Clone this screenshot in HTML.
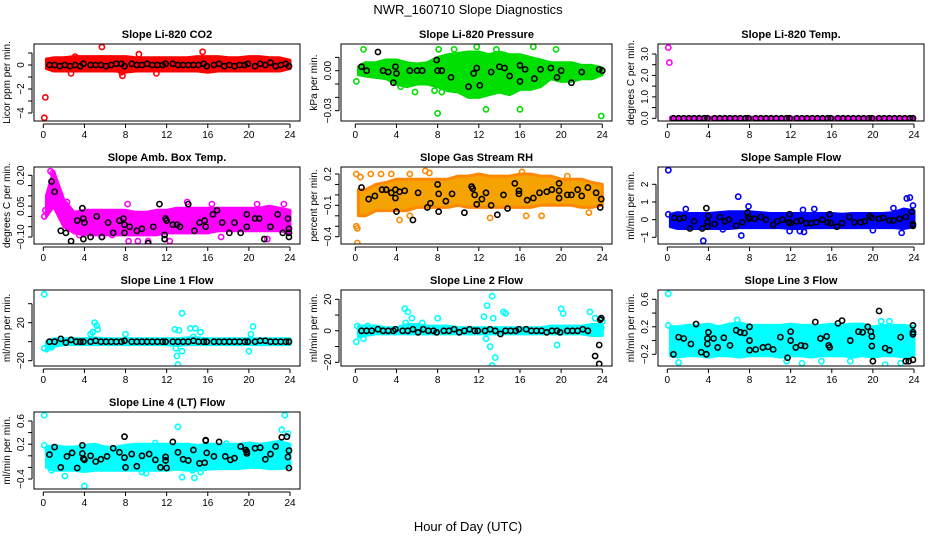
<!DOCTYPE html>
<html><head><meta charset="utf-8"><style>
body{margin:0;background:#fff;}
svg{display:block;font-family:"Liberation Sans",sans-serif;}
</style></head><body>
<svg id="chart" width="936" height="540" viewBox="0 0 936 540">
<text x="468" y="14" text-anchor="middle" font-size="13">NWR_160710  Slope Diagnostics</text>
<text x="468" y="531" text-anchor="middle" font-size="13">Hour of Day (UTC)</text>
</svg>
<script>
// ---------- data ----------
const xTicks = [0,4,8,12,16,20,24];
const bandX = [0.3,1,2,3,4,5,6,7,8,9,10,11,12,13,14,15,16,17,18,19,20,21,22,23,24];

const co2Lo = [-0.3,-0.5,-0.5,-0.5,-0.5,-0.5,-0.5,-0.5,-0.6,-0.5,-0.5,-0.5,-0.5,-0.5,-0.5,-0.5,-0.6,-0.5,-0.5,-0.5,-0.5,-0.5,-0.5,-0.5,-0.3];
const co2Hi = [0.5,0.6,0.6,0.7,0.7,0.7,0.7,0.7,0.7,0.6,0.6,0.6,0.6,0.6,0.6,0.7,0.7,0.7,0.6,0.6,0.7,0.7,0.6,0.6,0.4];
const co2OutX = [0.1,0.2,5.7,15.5,7.7,9.3,2.7,11,7.6,3.1];
const co2OutY = [-4.4,-2.7,1.5,1.1,-0.9,0.9,-0.7,-0.7,-0.6,0.7];
const co2BlkX = [0.6,1.1,1.6,2.1,2.6,3.1,3.6,3.9,4.6,5.1,5.6,6.1,6.6,7.1,7.6,7.9,8.6,9.1,9.6,10.1,10.6,11.1,11.6,11.9,12.6,13.1,13.6,14.1,14.6,15.1,15.6,15.9,16.6,17.1,17.6,18.1,18.6,19.1,19.6,19.9,20.6,21.1,21.6,22.1,22.6,23.1,23.6,23.9];
const co2BlkY = [0,0,-0.1,0,-0.1,0,-0.1,0.1,0,0,0,-0.1,0,0.1,0.1,-0.1,0.1,0,0,0.1,0,0,0,0.1,0.1,0,0,0,0,0,0.1,-0.1,0,0.1,-0.1,0,-0.1,0,0,0.1,-0.1,0.1,0,0.2,-0.1,0,0.1,-0.1];

const prLo = [-0.003,-0.004,-0.005,-0.006,-0.01,-0.012,-0.01,-0.01,-0.012,-0.015,-0.016,-0.02,-0.02,-0.018,-0.016,-0.018,-0.014,-0.014,-0.012,-0.006,-0.008,-0.008,-0.006,-0.006,-0.003];
const prHi = [0.003,0.006,0.006,0.008,0.008,0.006,0.005,0.006,0.01,0.012,0.013,0.014,0.014,0.012,0.014,0.012,0.012,0.01,0.008,0.006,0.006,0.006,0.004,0.004,0.002];
const prOutX = [0.8,8.1,8,5.8,7.7,8.4,12.7,16,23.9,17.3,19.5,13.7,11.8,0.1,4.4,9.6];
const prOutY = [0.016,0.016,-0.032,-0.016,-0.015,-0.016,-0.029,-0.029,-0.034,0.018,0.016,0.016,0.018,-0.008,-0.012,0.016];
const prBlkX = [0.6,1.1,2.2,2.7,3.2,3.7,3.9,4,5.3,6,6.5,7.9,8,8.4,9.3,11,11.5,11.8,12.1,13.2,14,14.5,15,16,16,16.5,17.4,18,19,19.6,20,21,22,23.7,24];
const prBlkY = [0.003,0,0.014,0,-0.001,-0.009,0.003,-0.002,0,0,0,0.008,0,0,-0.005,-0.012,-0.002,0.002,-0.011,-0.001,0.003,0.002,-0.004,0.004,-0.008,0.001,-0.006,0.001,0.002,-0.005,0,-0.009,-0.001,0.001,0];

const tLo = [-0.04,-0.04,-0.04,-0.04,-0.04,-0.04,-0.04,-0.04,-0.04,-0.04,-0.04,-0.04,-0.04,-0.04,-0.04,-0.04,-0.04,-0.04,-0.04,-0.04,-0.04,-0.04,-0.04,-0.04,-0.04];
const tHi = [0.05,0.05,0.05,0.05,0.05,0.05,0.05,0.05,0.05,0.05,0.05,0.05,0.05,0.05,0.05,0.05,0.05,0.05,0.05,0.05,0.05,0.05,0.05,0.05,0.05];
const tOutX = [0.1,0.2];
const tOutY = [3.3,2.6];
const tBlkX = [0.6,1.1,1.6,2.1,2.6,3.1,3.6,3.9,4.6,5.1,5.6,6.1,6.6,7.1,7.6,7.9,8.6,9.1,9.6,10.1,10.6,11.1,11.6,11.9,12.6,13.1,13.6,14.1,14.6,15.1,15.6,15.9,16.6,17.1,17.6,18.1,18.6,19.1,19.6,19.9,20.6,21.1,21.6,22.1,22.6,23.1,23.6,23.9];
const tBlkY = [0,0,0,0,0,0,0,0,0,0,0,0,0,0,0,0,0,0,0,0,0,0,0,0,0,0,0,0,0,0,0,0,0,0,0,0,0,0,0,0,0,0,0,0,0,0,0,0];

const abLo = [0.0,0.05,-0.05,-0.08,-0.09,-0.09,-0.09,-0.09,-0.09,-0.09,-0.09,-0.09,-0.08,-0.08,-0.08,-0.08,-0.08,-0.07,-0.07,-0.07,-0.07,-0.07,-0.07,-0.07,-0.08];
const abHi = [0.1,0.22,0.08,0.02,0.03,0.03,0.03,0.03,0.03,0.02,0.02,0.03,0.03,0.04,0.04,0.04,0.04,0.04,0.04,0.04,0.04,0.04,0.05,0.04,0.03];
const abOutX = [0.1,0.2,16.4,20.8,23.4,10.2,12.3,8.3,9.2,17.3,21.8,5.7,3.5,6.7,2.3,14,8.2,0.7,0.9];
const abOutY = [0.0,0.03,0.06,0.06,0.06,-0.12,-0.12,-0.12,-0.12,-0.1,-0.11,-0.1,-0.09,-0.09,0.07,0.07,0.06,0.22,0.21];
const abBlkX = [0.8,1.1,1.7,2.2,2.7,3.3,3.8,3.9,3.9,4,4.6,5.2,5.7,6.3,6.8,7.4,7.8,7.9,7.9,8.4,9.1,9.6,10.2,10.7,11.3,11.8,11.8,11.9,12,12.6,13,13.3,14.1,14.7,15.2,15.7,15.8,16.5,16.9,17.4,18.1,18.6,19.2,19.8,19.8,20.6,21,21.5,22.1,22.8,23.3,23.8,23.9,23.9,23.9];
const abBlkY = [0.17,0.12,-0.07,-0.08,-0.12,-0.02,0.04,-0.01,-0.11,-0.03,-0.1,0.0,-0.1,-0.03,-0.08,-0.02,-0.01,-0.04,-0.08,-0.05,-0.07,-0.06,-0.13,-0.05,0.06,-0.11,-0.09,-0.01,-0.02,-0.04,-0.04,-0.05,0.06,-0.07,-0.03,-0.02,-0.05,0.01,0.03,-0.03,-0.08,-0.03,-0.08,0.01,-0.05,-0.01,-0.01,-0.11,-0.05,0.01,-0.08,-0.01,-0.06,-0.08,-0.1];

const rhLo = [-0.2,-0.2,-0.15,-0.15,-0.15,-0.15,-0.12,-0.12,-0.12,-0.12,-0.1,-0.12,-0.12,-0.12,-0.12,-0.12,-0.12,-0.12,-0.1,-0.1,-0.1,-0.1,-0.12,-0.12,-0.1];
const rhHi = [0.05,0.05,0.1,0.12,0.15,0.15,0.15,0.15,0.15,0.15,0.18,0.18,0.2,0.18,0.18,0.18,0.2,0.2,0.18,0.18,0.15,0.15,0.15,0.12,0.1];
const rhOutX = [0.1,0.2,0.2,0.1,0.5,1.5,2.5,3.5,5.3,6.8,7.2,16.2,20.6,5.3,4.3,13.1,16.6,18.1,22.7];
const rhOutY = [-0.3,-0.32,-0.46,0.2,0.17,0.2,0.2,0.2,0.2,0.23,0.21,0.22,0.18,-0.2,-0.24,-0.22,-0.2,-0.2,-0.17];
const rhBlkX = [0.6,1.3,1.9,2.6,3,3.5,3.9,3.9,4,4.3,4.8,5.6,6.1,7,7.3,8,8.1,8.1,8.8,9.4,10.6,11.3,11.4,11.6,11.8,12.3,12.7,13.2,13.8,14.4,14.8,15.5,15.9,15.9,16.7,17.3,17.9,18.6,19.1,19.8,19.8,19.8,20.6,21,21.6,22,22.6,23.4,23.8,23.9];
const rhBlkY = [0.07,-0.04,-0.01,0.05,0.05,0.02,0.05,-0.03,-0.16,0.03,0.04,-0.24,0.02,-0.12,-0.08,0.1,-0.16,0.01,-0.06,0.01,-0.17,0.08,0.06,0.0,-0.09,-0.04,0.02,-0.1,-0.19,0.0,-0.13,0.11,0.01,0.04,-0.05,-0.03,0.02,0.03,0.05,-0.03,0.04,0.11,0.0,0.0,0.05,-0.01,0.07,0.02,-0.12,-0.04];

const sfLo = [-0.4,-0.5,-0.5,-0.5,-0.5,-0.5,-0.5,-0.45,-0.45,-0.45,-0.45,-0.45,-0.5,-0.5,-0.45,-0.45,-0.45,-0.45,-0.45,-0.45,-0.45,-0.45,-0.45,-0.5,-0.4];
const sfHi = [0.3,0.4,0.35,0.35,0.35,0.4,0.45,0.45,0.45,0.4,0.35,0.35,0.35,0.35,0.35,0.35,0.35,0.3,0.35,0.35,0.35,0.35,0.4,0.6,0.5];
const sfOutX = [0.1,0.1,6.9,7.2,3.5,1.8,5.4,7.9,11.9,12.9,13.3,20,22.8,23.3,23.6,22,23.9,13.2,14.3];
const sfOutY = [2.8,0.3,1.3,-0.9,-1.2,0.6,-0.55,0.75,-0.65,-0.65,-0.7,-0.6,-0.75,1.2,1.25,0.65,0.8,0.55,0.6];
const sfBlkX = [0.7,1.2,1.6,2.2,2.6,3.4,3.8,3.9,3.9,4,4.6,5.1,5.6,6,6.7,7.3,7.8,7.9,8,8.5,9.1,9.6,10.3,10.7,11.2,11.8,11.9,12,12.6,13,13.5,14,14.5,15.1,15.6,15.8,15.9,16.5,17,17.7,18.2,18.8,19.2,19.7,19.9,20.6,21,21.6,22,22.6,23.2,23.8,23.9,23.9];
const sfBlkY = [0.1,0.05,0.1,-0.5,-0.1,-0.5,0.65,-0.15,-0.4,0.2,-0.25,0.15,-0.1,0.0,-0.35,-0.15,0.4,0.15,0.05,0.05,0.15,0.0,-0.3,-0.1,0.0,-0.15,0.3,-0.2,-0.1,-0.05,-0.2,-0.2,-0.15,0.0,-0.15,0.3,-0.2,-0.4,-0.2,0.15,-0.15,-0.15,-0.1,0.2,0.1,0.05,0.1,-0.05,-0.05,0.05,0.15,0.45,-0.25,-0.35];

const l1Lo = [-10,-5,-3,-3,-3,-3,-3,-3,-3,-3,-3,-3,-3,-4,-3,-3,-3,-3,-3,-3,-3,-3,-3,-3,-3];
const l1Hi = [0,3,3,3,3,4,3,3,3,3,3,3,3,3,4,4,3,3,3,3,3,3,3,3,3];
const l1OutX = [0.1,0.1,0.8,5,5.2,5.3,4.6,4.8,8,12.8,13.2,13.5,14.3,14.8,15.3,14.6,12.9,13,13.1,13.5,20,20.4,20.2,20.1];
const l1OutY = [50,-7,-6,20,17,13,8,10,8,13,12,30,14,14,10,5,-7,-15,-24,-10,-10,16,8,2];
const l1BlkX = [0.6,1.1,1.7,2.2,2.7,3.2,3.6,3.9,4.6,5.1,5.6,6.1,6.6,7.1,7.6,7.9,8.6,9.1,9.6,10.1,10.6,11.1,11.6,11.9,12.6,13.1,13.6,14.1,14.6,15.1,15.6,15.9,16.6,17.1,17.6,18.1,18.6,19.1,19.6,19.9,20.6,21.1,21.6,22.1,22.6,23.1,23.6,23.9];
const l1BlkY = [0,0,3,-1,2,0,0,0,0,1,0,0,0,0,0,1,0,0,0,0,0,0,0,0,0,0,0,0,1,0,0,0,0,0,0,0,0,0,0,0,0,1,1,0,0,0,0,0];

const l2Lo = [-4,-3,-2,-2,-2,-2,-2,-2,-2,-2,-2,-2,-2,-2,-2,-2,-2,-2,-2,-2,-2,-2,-2,-3,-3];
const l2Hi = [3,3,3,2,2,4,4,3,3,3,2,2,2,2,2,2,2,2,2,3,3,3,3,4,4];
const l2OutX = [0.1,0.2,0.8,1.2,4.8,5.1,5.5,4.9,6.5,8,13.3,12.8,12.5,13.4,14.4,14.6,12.7,13.1,13.6,13.3,20,20.2,19.6,22.8,23.3,24,23.9];
const l2OutY = [-7,3,-5,3,14,12,8,5,5,8,22,16,9,8,12,11,-5,-10,-17,-22,14,11,-9,12,8,6,2];
const l2BlkX = [0.6,1.1,1.6,2.2,2.7,3.2,3.7,3.9,4.6,5.1,5.6,6.1,6.6,7.1,7.6,7.9,8.6,9.1,9.6,10.1,10.6,11.1,11.6,11.9,12.6,13.1,13.6,14.1,14.6,15.1,15.6,15.9,16.6,17.1,17.6,18.1,18.6,19.1,19.6,19.9,20.6,21.1,21.6,22.1,22.6,23.3,23.7,23.7,23.8,23.9];
const l2BlkY = [0,0,0,1,0,0,0,1,0,0,1,-1,1,0,0,-1,0,0,1,-1,0,1,0,0,0,1,0,-2,0,0,0,1,1,0,0,0,-1,0,0,-1,0,0,0,1,0,-16,-9,-21,7,8];

const l3Lo = [-0.22,-0.24,-0.22,-0.22,-0.24,-0.22,-0.22,-0.24,-0.22,-0.22,-0.22,-0.24,-0.22,-0.22,-0.24,-0.22,-0.22,-0.22,-0.24,-0.22,-0.24,-0.22,-0.22,-0.24,-0.22];
const l3Hi = [0.2,0.2,0.22,0.22,0.24,0.2,0.24,0.26,0.22,0.22,0.22,0.22,0.24,0.22,0.22,0.22,0.24,0.22,0.24,0.24,0.2,0.22,0.22,0.22,0.2];
const l3OutX = [0.1,0.1,1.1,13.1,11.6,15,17.8,21.2,22.7,6.8,20.8,21.6,0.5];
const l3OutY = [0.68,0.22,-0.32,-0.33,-0.3,-0.3,-0.3,-0.35,-0.33,0.3,0.28,0.28,-0.2];
const l3BlkX = [0.6,1.1,1.6,2.3,2.8,3.3,3.8,3.9,3.9,4,4.5,4.9,5.5,6.1,6.7,7.1,7.5,8,8,8,8.6,9.3,9.8,10.3,11,11.7,12,12,12.5,13,13.4,14.4,14.9,15.5,15.7,15.8,16.6,17,17.8,18.6,19,19.5,19.8,19.9,19.9,20,20.6,21.2,21.6,22.7,23.2,23.5,23.9,23.9,23.9,23.9];
const l3BlkY = [-0.2,0.05,0.03,-0.05,0.24,-0.17,-0.2,-0.05,0.03,0.12,0.03,-0.1,0.04,-0.07,0.15,0.12,0.11,0.2,0.0,-0.14,-0.13,-0.1,-0.09,-0.13,0.05,-0.25,0.0,0.13,-0.1,-0.07,-0.08,0.27,0.03,0.06,-0.07,-0.1,0.25,0.29,0.0,0.13,0.12,0.2,0.13,0.06,-0.08,-0.3,0.43,-0.11,-0.14,0.05,-0.3,-0.3,0.22,0.12,0.09,-0.28];

const l4Lo = [-0.2,-0.25,-0.25,-0.25,-0.27,-0.25,-0.25,-0.25,-0.25,-0.25,-0.25,-0.25,-0.25,-0.23,-0.25,-0.25,-0.23,-0.22,-0.22,-0.22,-0.2,-0.2,-0.22,-0.22,-0.2];
const l4Hi = [0.15,0.18,0.15,0.15,0.18,0.2,0.15,0.15,0.18,0.2,0.2,0.2,0.2,0.2,0.2,0.18,0.2,0.2,0.2,0.2,0.22,0.2,0.22,0.25,0.2];
const l4OutX = [0.1,0.1,0.8,2.1,4,9.6,10,13.1,13.5,14.5,14.7,15.3,23.2,23.5,23.8,17.8,10.9];
const l4OutY = [0.7,0.18,-0.25,-0.35,-0.52,-0.28,-0.3,0.5,-0.37,-0.25,-0.38,-0.28,0.45,0.7,0.38,0.21,0.22];
const l4BlkX = [0.6,1.1,1.7,2.3,2.8,3.3,3.8,3.8,3.9,4,4.6,5.1,5.6,6.2,6.8,7.4,7.9,7.9,8,8.6,9.1,9.6,10.3,10.9,11.4,11.9,11.9,12,12.6,13.1,13.6,14.1,14.6,15.2,15.7,15.8,15.8,15.9,16.6,17.1,17.7,18.2,18.6,19.2,19.7,19.8,19.8,20.6,21.1,21.6,22.1,22.6,23.2,23.7,23.8,23.9,23.9];
const l4BlkY = [0.02,0.15,-0.2,-0.01,0.05,-0.21,0.18,0.04,-0.05,-0.07,0.0,-0.1,-0.06,-0.01,0.13,0.06,-0.03,0.33,-0.2,0.03,-0.18,0.0,0.03,-0.07,-0.2,-0.02,-0.08,-0.21,0.24,0.06,-0.06,-0.08,0.1,-0.13,-0.12,0.26,0.27,0.05,-0.01,0.24,-0.01,-0.07,-0.04,0.16,0.1,0.07,0.04,0.13,0.14,-0.06,0.03,0.16,0.32,0.33,-0.02,0.09,-0.21];

// ---------- layout ----------
const rows = [[44,121],[167,244],[290,366],[412,489]];
const cols = [{l:34,r:300,x0:43.3,x24:290},{l:341,r:612,x0:355.3,x24:602.3},{l:658,r:924,x0:667.3,x24:914}];
const panels = [
 {name:'co2',title:'Slope Li-820 CO2',ylab:'Licor ppm per min.',row:0,col:0,col2:'#ff0000',fill:'#ff0000',ref:[0,65,-4,113],ticks:[-4,-3,-2,-1,0,1],labels:{'-4':'\u22124','-2':'\u22122','0':'0'},lo:co2Lo,hi:co2Hi,ox:co2OutX,oy:co2OutY,bx:co2BlkX,by:co2BlkY},
 {name:'pressure',title:'Slope Li-820 Pressure',ylab:'kPa per min.',row:0,col:1,col2:'#00dd00',fill:'#00e000',ref:[0,70.7,-0.03,110.7],ticks:[-0.03,-0.02,-0.01,0,0.01],labels:{'0':'0.00','-0.03':'\u22120.03'},lo:prLo,hi:prHi,ox:prOutX,oy:prOutY,bx:prBlkX,by:prBlkY},
 {name:'li820-temp',title:'Slope Li-820 Temp.',ylab:'degrees C per min.',row:0,col:2,col2:'#ff00ff',fill:'#ff00ff',ref:[0,118.3,3,54],ticks:[0,0.5,1,1.5,2,2.5,3],labels:{'0':'0.0','1':'1.0','2':'2.0','3':'3.0'},lo:tLo,hi:tHi,ox:tOutX,oy:tOutY,bx:tBlkX,by:tBlkY},
 {name:'amb-box-temp',title:'Slope Amb. Box Temp.',ylab:'degrees C per min.',row:1,col:0,col2:'#ff00ff',fill:'#ff00ff',ref:[0.2,175.3,-0.1,237],ticks:[-0.1,-0.05,0,0.05,0.1,0.15,0.2],labels:{'0.2':'0.20','0.05':'0.05','-0.1':'\u22120.10'},lo:abLo,hi:abHi,ox:abOutX,oy:abOutY,bx:abBlkX,by:abBlkY},
 {name:'gas-stream-rh',title:'Slope Gas Stream RH',ylab:'percent per min.',row:1,col:1,col2:'#ff8800',fill:'#f5a300',ref:[0.2,174,-0.4,236.7],ticks:[-0.4,-0.3,-0.2,-0.1,0,0.1,0.2],labels:{'0.2':'0.2','-0.1':'\u22120.1','-0.4':'\u22120.4'},lo:rhLo,hi:rhHi,ox:rhOutX,oy:rhOutY,bx:rhBlkX,by:rhBlkY},
 {name:'sample-flow',title:'Slope Sample Flow',ylab:'ml/min per min.',row:1,col:2,col2:'#0000ff',fill:'#0000ff',ref:[2,184.3,-1,237.3],ticks:[-1,0,1,2],labels:{'-1':'\u22121','0':'0','1':'1','2':'2'},lo:sfLo,hi:sfHi,ox:sfOutX,oy:sfOutY,bx:sfBlkX,by:sfBlkY},
 {name:'line1-flow',title:'Slope Line 1 Flow',ylab:'ml/min per min.',row:2,col:0,col2:'#00ffff',fill:'#00ffff',ref:[20,322.7,-20,360.7],ticks:[-20,0,20,40],labels:{'20':'20','-20':'\u221220'},lo:l1Lo,hi:l1Hi,ox:l1OutX,oy:l1OutY,bx:l1BlkX,by:l1BlkY},
 {name:'line2-flow',title:'Slope Line 2 Flow',ylab:'ml/min per min.',row:2,col:1,col2:'#00ffff',fill:'#00ffff',ref:[20,299.3,-20,362.3],ticks:[-20,-10,0,10,20],labels:{'20':'20','0':'0','-20':'\u221220'},lo:l2Lo,hi:l2Hi,ox:l2OutX,oy:l2OutY,bx:l2BlkX,by:l2BlkY},
 {name:'line3-flow',title:'Slope Line 3 Flow',ylab:'ml/min per min.',row:2,col:2,col2:'#00ffff',fill:'#00ffff',ref:[0.6,299.3,-0.2,354.3],ticks:[-0.2,0,0.2,0.4,0.6],labels:{'0.6':'0.6','0.2':'0.2','-0.2':'\u22120.2'},lo:l3Lo,hi:l3Hi,ox:l3OutX,oy:l3OutY,bx:l3BlkX,by:l3BlkY},
 {name:'line4-flow',title:'Slope Line 4 (LT) Flow',ylab:'ml/min per min.',row:3,col:0,col2:'#00ffff',fill:'#00ffff',ref:[0.6,421,-0.4,479],ticks:[-0.4,-0.2,0,0.2,0.4,0.6],labels:{'0.6':'0.6','0.2':'0.2','-0.4':'\u22120.4'},lo:l4Lo,hi:l4Hi,ox:l4OutX,oy:l4OutY,bx:l4BlkX,by:l4BlkY}
];

const NS='http://www.w3.org/2000/svg';
const svg=document.getElementById('chart');
function mk(tag,attrs,parent){const e=document.createElementNS(NS,tag);for(const k in attrs)e.setAttribute(k,attrs[k]);(parent||svg).appendChild(e);return e;}

panels.forEach(p=>{
  const [top,bot]=rows[p.row]; const c=cols[p.col];
  const g=mk('g',{});
  
  
  const X=h=>c.x0+h*(c.x24-c.x0)/24;
  const [v1,p1,v2,p2]=p.ref;
  const Y=v=>p1+(v-v1)*(p2-p1)/(v2-v1);
  const cid='clip-'+p.name;
  const cp=mk('clipPath',{id:cid},g); mk('rect',{x:c.l,y:top,width:c.r-c.l,height:bot-top},cp);
  const pg=mk('g',{'clip-path':'url(#'+cid+')'},g);
  let d='';
  bandX.forEach((h,i)=>{d+=(i?'L':'M')+X(h).toFixed(1)+','+Y(p.hi[i]).toFixed(1);});
  for(let i=bandX.length-1;i>=0;i--){d+='L'+X(bandX[i]).toFixed(1)+','+Y(p.lo[i]).toFixed(1);}
  const band=mk('path',{d:d+'Z',fill:p.fill,stroke:p.col2,'stroke-width':3,'stroke-linejoin':'round'},pg);
  
  
  p.ox.forEach((h,i)=>{
    const e=mk('circle',{cx:X(h),cy:Y(p.oy[i]),r:2.6,fill:'none',stroke:p.col2,'stroke-width':1.6},pg);
    
    
  });
  p.bx.forEach((h,i)=>{
    const e=mk('circle',{cx:X(h),cy:Y(p.by[i]),r:2.6,fill:'none',stroke:'#000','stroke-width':1.6},pg);
    
    
  });
  const box=mk('rect',{x:c.l,y:top,width:c.r-c.l,height:bot-top,fill:'none',stroke:'#000','stroke-width':1},g);
  
  
  const t=mk('text',{x:(c.l+c.r)/2,y:top-6,'text-anchor':'middle','font-size':11,'font-weight':'bold'},g);
  t.textContent=p.title;
  
  
  const xa=mk('g',{},g);
  
  
  mk('line',{x1:X(0),x2:X(24),y1:bot+3,y2:bot+3,stroke:'#000'},xa);
  xTicks.forEach(v=>{
    mk('line',{x1:X(v),x2:X(v),y1:bot+3,y2:bot+7,stroke:'#000'},xa);
    const tl=mk('text',{x:X(v),y:bot+17,'text-anchor':'middle','font-size':10},xa);
    tl.textContent=v;
  });
  const ya=mk('g',{},g);
  
  
  const ax=c.l-2;
  mk('line',{x1:ax,x2:ax,y1:Y(p.ticks[0]),y2:Y(p.ticks[p.ticks.length-1]),stroke:'#000'},ya);
  p.ticks.forEach(v=>{
    const yy=Y(v);
    mk('line',{x1:ax-4,x2:ax,y1:yy,y2:yy,stroke:'#000'},ya);
    const lab=p.labels[String(v)];
    if(lab!==undefined){
      const tl=mk('text',{x:ax-8,y:yy,'text-anchor':'middle','font-size':10,transform:'rotate(-90 '+(ax-8)+' '+yy+')'},ya);
      tl.textContent=lab;
    }
  });
  const yl=mk('text',{x:c.l-24,y:(top+bot)/2,'text-anchor':'middle','font-size':10,transform:'rotate(-90 '+(c.l-24)+' '+((top+bot)/2)+')'},g);
  yl.textContent=p.ylab;
  
  
});
</script>
</body></html>
